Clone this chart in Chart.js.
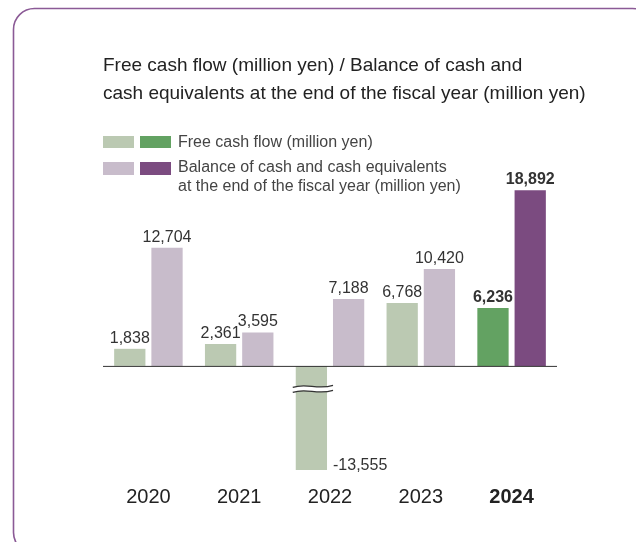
<!DOCTYPE html>
<html>
<head>
<meta charset="utf-8">
<script src="https://cdn.jsdelivr.net/npm/chart.js@4.4.1/dist/chart.umd.min.js"></script>
<style>
  html, body { margin: 0; padding: 0; background: #fff; }
  #wrap { width: 636px; height: 542px; position: relative; }
</style>
</head>
<body>
<div id="wrap"><canvas id="myChart" width="636" height="542"></canvas></div>
<script>
// fiscal years and the two series (million yen)
var years = ['2020', '2021', '2022', '2023', '2024'];
var freeCashFlow = [1838, 2361, -13555, 6768, 6236];
var cashBalance = [12704, 3595, 7188, 10420, 18892];

var titleLines = [
	'Free cash flow (million yen) / Balance of cash and',
	'cash equivalents at the end of the fiscal year (million yen)'
];
var legendFcf = 'Free cash flow (million yen)';
var legendCash = ['Balance of cash and cash equivalents', 'at the end of the fiscal year (million yen)'];

var fcfColors = ['#bbc9b2', '#bbc9b2', '#bbc9b2', '#bbc9b2', '#63a262'];
var cashColors = ['#c8bccb', '#c8bccb', '#c8bccb', '#c8bccb', '#7b4b80'];

var FONT = '"Liberation Sans", Arial, sans-serif';

let fmt = function (v) {
	return v.toLocaleString('en-US');
}

// frame, title, legend, zero line, axis break and value labels
var decor = {
	id: 'decor',
	beforeDraw: function (chart) {
		var ctx = chart.ctx;
		ctx.save();
		ctx.strokeStyle = '#8b5a96';
		ctx.lineWidth = 1.6;
		ctx.beginPath();
		ctx.roundRect(13.5, 8.5, 640, 545, 21);
		ctx.stroke();

		ctx.fillStyle = '#222';
		ctx.font = '19px ' + FONT;
		ctx.textBaseline = 'middle';
		ctx.fillText(titleLines[0], 103, 66);
		ctx.fillText(titleLines[1], 103, 94);

		ctx.fillStyle = '#bbc9b2'; ctx.fillRect(103, 136, 31, 12);
		ctx.fillStyle = '#63a262'; ctx.fillRect(140, 136, 31, 12);
		ctx.fillStyle = '#c8bccb'; ctx.fillRect(103, 162, 31, 13);
		ctx.fillStyle = '#7b4b80'; ctx.fillRect(140, 162, 31, 13);

		ctx.fillStyle = '#444';
		ctx.font = '16px ' + FONT;
		ctx.fillText(legendFcf, 178, 143);
		ctx.fillText(legendCash[0], 178, 168);
		ctx.fillText(legendCash[1], 178, 187);
		ctx.restore();
	},
	afterDatasetsDraw: function (chart) {
		var ctx = chart.ctx;
		var area = chart.chartArea;
		var y0 = chart.scales.y.getPixelForValue(0);
		ctx.save();
		ctx.strokeStyle = '#333';
		ctx.lineWidth = 1;
		ctx.beginPath();
		ctx.moveTo(area.left, y0 + 0.5);
		ctx.lineTo(area.right, y0 + 0.5);
		ctx.stroke();

		chart.data.datasets.forEach(function (ds, di) {
			chart.getDatasetMeta(di).data.forEach(function (bar, i) {
				var v = ds.data[i];
				ctx.fillStyle = '#333';
				ctx.font = (i === 4 ? 'bold ' : '') + '16px ' + FONT;
				if (v >= 0) {
					ctx.textAlign = 'center';
					ctx.textBaseline = 'alphabetic';
					ctx.fillText(fmt(v), bar.x, bar.y - 6);
				} else {
					// bar runs past the bottom of the plot: mark the break
					ctx.textAlign = 'left';
					ctx.textBaseline = 'alphabetic';
					ctx.fillText(fmt(v), bar.x + bar.width / 2 + 6, area.bottom);
					var l = bar.x - bar.width / 2 - 3, r = bar.x + bar.width / 2 + 6;
					var yb = y0 + 23;
					var wave = function (off) {
						ctx.moveTo(l, yb + off + 1);
						ctx.bezierCurveTo(l + (r - l) * 0.35, yb + off - 4, l + (r - l) * 0.6, yb + off + 4, r, yb + off - 1);
					};
					ctx.fillStyle = '#fff';
					ctx.beginPath();
					wave(-2.5);
					ctx.lineTo(r, yb + 1.5);
					ctx.bezierCurveTo(l + (r - l) * 0.6, yb + 6.5, l + (r - l) * 0.35, yb - 1.5, l, yb + 3.5);
					ctx.closePath();
					ctx.fill();
					ctx.strokeStyle = '#333';
					ctx.lineWidth = 1.2;
					ctx.beginPath();
					wave(-2.5);
					wave(2.5);
					ctx.stroke();
				}
			});
		});
		ctx.restore();
	}
};

var ctx = document.getElementById('myChart').getContext('2d');
var myChart = new Chart(ctx, {
	type: 'bar',
	data: {
		labels: years,
		datasets: [{
			label: legendFcf,
			data: freeCashFlow,
			backgroundColor: fcfColors,
			borderWidth: 0
		}, {
			label: legendCash.join(' '),
			data: cashBalance,
			backgroundColor: cashColors,
			borderWidth: 0
		}]
	},
	options: {
		responsive: false,
		animation: false,
		clip: 0,
		categoryPercentage: 0.82,
		barPercentage: 0.84,
		layout: { padding: { left: 103, right: 79, top: 180, bottom: 26 } },
		plugins: {
			legend: { display: false },
			tooltip: { enabled: false }
		},
		scales: {
			x: {
				grid: { display: false },
				border: { display: false },
				ticks: {
					color: '#222',
					padding: 7,
					font: function (c) {
						return { family: FONT, size: 20, weight: c.index === 4 ? 'bold' : 'normal' };
					}
				}
			},
			y: {
				display: false,
				min: -11200,
				max: 20000
			}
		}
	},
	plugins: [decor]
});
</script>
</body>
</html>
